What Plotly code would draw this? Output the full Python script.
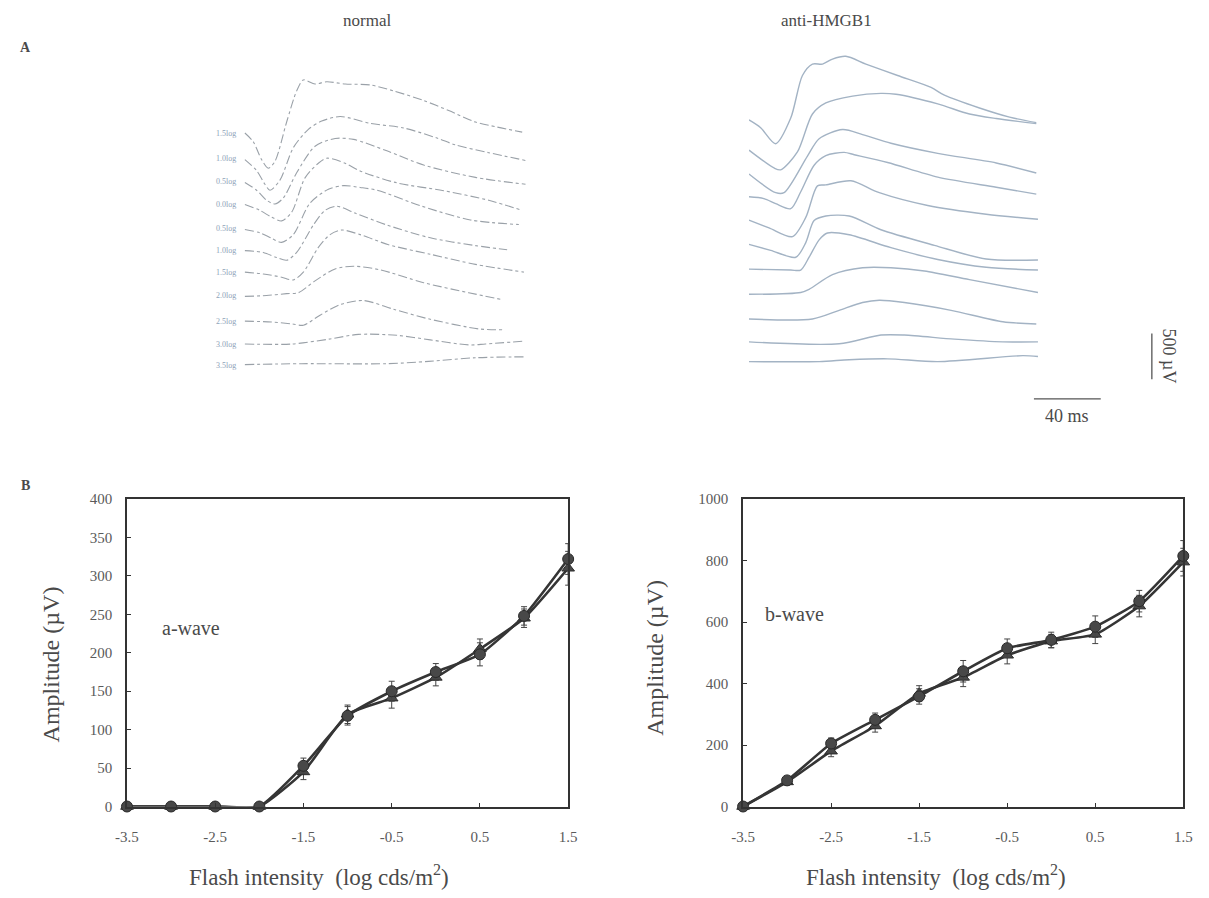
import plotly.graph_objects as go

# ---------------- Panel A : ERG traces (time in ms, amplitude in uV) ----------------
intensity_labels = ["1.5log", "1.0log", "0.5log", "0.0log", "0.5log", "1.0log",
                    "1.5log", "2.0log", "2.5log", "3.0log", "3.5log"]

normal_t = [
    [0, 5, 10, 14, 18, 25, 31, 35, 42, 49, 60, 75, 89, 107, 122, 138, 151, 166],
    [0, 7, 12, 15, 21, 29, 38, 46, 57, 75, 95, 115, 126, 146, 168],
    [0, 7, 13, 18, 23, 31, 42, 54, 65, 85, 107, 138, 168],
    [0, 9, 16, 22, 28, 36, 44, 49, 60, 69, 91, 119, 146, 166],
    [0, 9, 16, 22, 29, 39, 50, 59, 69, 79, 106, 135, 164],
    [0, 11, 19, 25, 31, 41, 48, 55, 66, 85, 111, 138, 157],
    [0, 11, 22, 29, 35, 44, 51, 58, 69, 86, 111, 138, 167],
    [0, 13, 25, 32, 42, 54, 65, 81, 107, 134, 154],
    [0, 16, 28, 35, 45, 57, 71, 89, 111, 140, 154],
    [0, 28, 51, 68, 91, 111, 134, 144, 166],
    [0, 34, 85, 110, 138, 168],
]
normal_v = [
    [0, -95, -290, -385, -310, 120, 460, 580, 535, 560, 535, 525, 460, 355, 245, 120, 65, 10],
    [-10, -130, -280, -345, -235, 120, 320, 410, 460, 385, 335, 225, 150, 65, -20],
    [-10, -95, -205, -245, -180, 95, 385, 470, 460, 335, 180, 45, -30],
    [0, -65, -140, -180, -85, 290, 450, 505, 450, 365, 235, 150, 45, -65],
    [-10, -45, -105, -150, -65, 280, 430, 470, 450, 420, 245, 95, 45],
    [0, -20, -75, -105, -20, 280, 440, 485, 410, 280, 140, 55, 10],
    [0, -20, -55, -85, 0, 270, 410, 460, 410, 300, 195, 85, 0],
    [-10, 0, 20, 30, 160, 290, 320, 280, 140, 30, -45],
    [0, -10, -30, -45, 65, 180, 225, 130, 20, -85, -95],
    [0, 0, 55, 105, 95, 45, -10, 0, 30],
    [10, 20, 20, 45, 85, 95],
]
normal_offsets = [2540, 2260, 2010, 1760, 1495, 1255, 1020, 765, 485, 235, 0]

anti_t = [
    [0, 7, 16, 25, 32, 38, 44, 50, 58, 70, 89, 109, 117, 138, 156, 172],
    [0, 15, 19, 29, 38, 46, 62, 79, 88, 113, 132, 148, 172],
    [0, 16, 21, 35, 42, 56, 68, 85, 113, 148, 172],
    [0, 9, 16, 25, 31, 39, 46, 57, 63, 83, 113, 148, 172],
    [0, 12, 26, 34, 41, 46, 61, 78, 107, 142, 173],
    [0, 13, 28, 34, 39, 46, 60, 79, 111, 142, 173],
    [0, 25, 31, 36, 42, 47, 60, 85, 113, 142, 173],
    [0, 31, 36, 50, 68, 85, 105, 132, 173],
    [0, 38, 54, 68, 78, 93, 121, 152, 172],
    [0, 54, 79, 93, 123, 152, 173],
    [0, 42, 60, 83, 113, 164, 173],
]
anti_v = [
    [0, -85, -260, 20, 485, 610, 610, 665, 695, 610, 485, 355, 270, 130, 30, -30],
    [0, -195, -215, -20, 395, 515, 590, 620, 610, 505, 395, 345, 290],
    [0, -205, -205, 195, 385, 485, 430, 335, 225, 120, 10],
    [0, -20, -75, -130, 55, 345, 450, 485, 460, 375, 215, 105, 30],
    [0, -85, -180, 30, 375, 385, 430, 300, 160, 65, 10],
    [0, -65, -140, 20, 260, 310, 310, 160, -10, -160, -170],
    [0, -10, -10, 130, 320, 395, 375, 235, 105, 20, -10],
    [-10, 10, 45, 205, 280, 280, 245, 150, 10],
    [0, 0, 95, 180, 205, 180, 95, -30, -55],
    [0, -20, 75, 75, 30, 0, 0],
    [0, 0, 20, 30, 0, 65, 55],
]
anti_offsets = [2640, 2310, 2050, 1800, 1545, 1280, 1010, 745, 465, 215, 0]

scale_bar_ms = 40
scale_bar_uv = 500

# ---------------- Panel B : intensity-response ----------------
flash_intensity = [-3.5, -3.0, -2.5, -2.0, -1.5, -1.0, -0.5, 0.0, 0.5, 1.0, 1.5]
x_tick_vals = [-3.5, -2.5, -1.5, -0.5, 0.5, 1.5]
x_tick_text = ["-3.5", "-2.5", "-1.5", "-0.5", "0.5", "1.5"]

a_wave_circle = [0, 0, 0, 0, 53, 118, 150, 175, 198, 248, 322]
a_wave_circle_err = [0, 0, 0, 0, 10, 12, 13, 11, 15, 12, 20]
a_wave_triangle = [0, 0, 0, 0, 45, 120, 141, 168, 205, 245, 310]
a_wave_triangle_err = [0, 0, 0, 0, 10, 12, 13, 11, 13, 12, 22]

b_wave_circle = [0, 85, 205, 282, 358, 440, 515, 542, 585, 668, 815]
b_wave_circle_err = [0, 10, 18, 22, 25, 35, 30, 25, 35, 35, 50]
b_wave_triangle = [0, 80, 180, 262, 368, 420, 492, 538, 560, 652, 795]
b_wave_triangle_err = [0, 10, 18, 20, 25, 30, 28, 22, 30, 35, 45]

# ---------------- geometry helpers ----------------
W, H = 1209, 898
PX_PER_MS = 1.7
PX_PER_UV = 0.0932


def fx(px):
    return px / W


def fy(px):
    return 1 - px / H


SERIF = "Liberation Serif, Times New Roman, serif"
TXT = "#4a4a4a"
fig = go.Figure()

# A-left traces (normal) -> axes x3/y3
for t, v, off in zip(normal_t, normal_v, normal_offsets):
    fig.add_trace(go.Scatter(
        x=t, y=[off + a for a in v], xaxis="x3", yaxis="y3", mode="lines",
        line=dict(color="#9aa1a8", width=1.1, dash="dashdot", shape="spline", smoothing=0.8),
        hoverinfo="skip"))

# A-right traces (anti-HMGB1) -> axes x4/y4
for t, v, off in zip(anti_t, anti_v, anti_offsets):
    fig.add_trace(go.Scatter(
        x=t, y=[off + a for a in v], xaxis="x4", yaxis="y4", mode="lines",
        line=dict(color="#a3b3c4", width=1.4, shape="spline", smoothing=0.8),
        hoverinfo="skip"))

# B panels
line_col = "#353535"


def add_series(x, y, err, symbol, xa, ya):
    fig.add_trace(go.Scatter(
        x=x, y=y, xaxis=xa, yaxis=ya, mode="lines+markers", cliponaxis=False,
        line=dict(color=line_col, width=2.6, shape="spline", smoothing=0.5),
        marker=dict(symbol=symbol, size=11, color="#484848", line=dict(color="#2a2a2a", width=1)),
        error_y=dict(type="data", array=err, color="#444", thickness=1, width=3)))


add_series(flash_intensity, a_wave_triangle, a_wave_triangle_err, "triangle-up", "x", "y")
add_series(flash_intensity, a_wave_circle, a_wave_circle_err, "circle", "x", "y")
add_series(flash_intensity, b_wave_triangle, b_wave_triangle_err, "triangle-up", "x2", "y2")
add_series(flash_intensity, b_wave_circle, b_wave_circle_err, "circle", "x2", "y2")

# axis geometry
A_L_X0, A_L_BASE = 237, 364
A_R_X0, A_R_BASE = 750, 360

tickfont = dict(family=SERIF, size=15, color="#5a5a5a")
common_x = dict(showline=True, mirror=True, linecolor="#333", linewidth=1.6,
                showgrid=False, zeroline=False, ticks="inside", ticklen=4, tickcolor="#333",
                tickfont=tickfont, tickvals=x_tick_vals, ticktext=x_tick_text,
                range=[-3.5, 1.5], ticklabelstandoff=16)
common_y = dict(showline=True, mirror=True, linecolor="#333", linewidth=1.6,
                showgrid=False, zeroline=False, ticks="inside", ticklen=4, tickcolor="#333",
                tickfont=tickfont, ticklabelstandoff=10)

fig.update_layout(
    width=W, height=H, margin=dict(l=0, r=0, t=0, b=0),
    paper_bgcolor="white", plot_bgcolor="rgba(0,0,0,0)", showlegend=False,
    xaxis=dict(domain=[fx(117), fx(566)], anchor="y", **common_x),
    yaxis=dict(domain=[fy(813), fy(500)], anchor="x", range=[0, 400], dtick=50, **common_y),
    xaxis2=dict(domain=[fx(744), fx(1192)], anchor="y2", **common_x),
    yaxis2=dict(domain=[fy(813), fy(500)], anchor="x2", range=[0, 1000], dtick=200, **common_y),
    xaxis3=dict(domain=[fx(180), fx(545)], anchor="y3", visible=False,
                range=[(180 - A_L_X0) / PX_PER_MS, (545 - A_L_X0) / PX_PER_MS]),
    yaxis3=dict(domain=[fy(385), fy(40)], anchor="x3", visible=False,
                range=[(A_L_BASE - 385) / PX_PER_UV, (A_L_BASE - 40) / PX_PER_UV]),
    xaxis4=dict(domain=[fx(750), fx(1200)], anchor="y4", visible=False,
                range=[0, (1200 - A_R_X0) / PX_PER_MS]),
    yaxis4=dict(domain=[fy(440), fy(30)], anchor="x4", visible=False,
                range=[(A_R_BASE - 440) / PX_PER_UV, (A_R_BASE - 30) / PX_PER_UV]),
)

ann = []
# trace labels
for lab, off in zip(intensity_labels, normal_offsets):
    ann.append(dict(x=-4.0, y=off, xref="x3", yref="y3", text=lab, showarrow=False,
                    xanchor="right", yanchor="middle",
                    font=dict(family=SERIF, size=8, color="#8ea2b8")))

# scale bars (in A-right data units)
sb_x0 = (1040 - A_R_X0) / PX_PER_MS
sb_y = (A_R_BASE - 398) / PX_PER_UV
vb_x = (1160 - A_R_X0) / PX_PER_MS
vb_y0 = (A_R_BASE - 378) / PX_PER_UV
fig.add_shape(type="line", xref="x4", yref="y4", x0=sb_x0, x1=sb_x0 + scale_bar_ms,
              y0=sb_y, y1=sb_y, line=dict(color="#555", width=1.3))
fig.add_shape(type="line", xref="x4", yref="y4", x0=vb_x, x1=vb_x,
              y0=vb_y0, y1=vb_y0 + scale_bar_uv, line=dict(color="#555", width=1.3))
ann.append(dict(x=sb_x0 + scale_bar_ms / 2, y=sb_y, xref="x4", yref="y4",
                text="40 ms", showarrow=False, xanchor="center", yanchor="top", yshift=-5,
                font=dict(family=SERIF, size=18, color=TXT)))
ann.append(dict(x=vb_x, y=vb_y0 + scale_bar_uv / 2, xref="x4", yref="y4",
                text="500 µV", showarrow=False, textangle=90, xanchor="left",
                yanchor="middle", xshift=5,
                font=dict(family=SERIF, size=18, color=TXT)))


def paper_text(px, py, text, size, angle=0, bold=False):
    return dict(x=fx(px), y=fy(py), xref="paper", yref="paper",
                text=("<b>%s</b>" % text) if bold else text, showarrow=False,
                xanchor="center", yanchor="middle", textangle=angle,
                font=dict(family=SERIF, size=size, color=TXT))


ann += [
    paper_text(361, 13, "normal", 17),
    paper_text(829, 13, "anti-HMGB1", 17),
    paper_text(14, 40, "A", 14, bold=True),
    paper_text(14, 486, "B", 14, bold=True),
    paper_text(40, 668, "Amplitude (µV)", 24, angle=-90),
    paper_text(655, 662, "Amplitude (µV)", 24, angle=-90),
    paper_text(312, 883, "Flash intensity  (log cds/m<sup>2</sup>)", 23),
    paper_text(940, 883, "Flash intensity  (log cds/m<sup>2</sup>)", 23),
    dict(x=-3.12, y=232, xref="x", yref="y", text="a-wave", showarrow=False,
         xanchor="left", yanchor="middle", font=dict(family=SERIF, size=20, color=TXT)),
    dict(x=-3.27, y=626, xref="x2", yref="y2", text="b-wave", showarrow=False,
         xanchor="left", yanchor="middle", font=dict(family=SERIF, size=20, color=TXT)),
]
fig.update_layout(annotations=ann)

fig.write_html("out.html", config={"displayModeBar": False},
               post_script="document.body.style.margin='0';")
